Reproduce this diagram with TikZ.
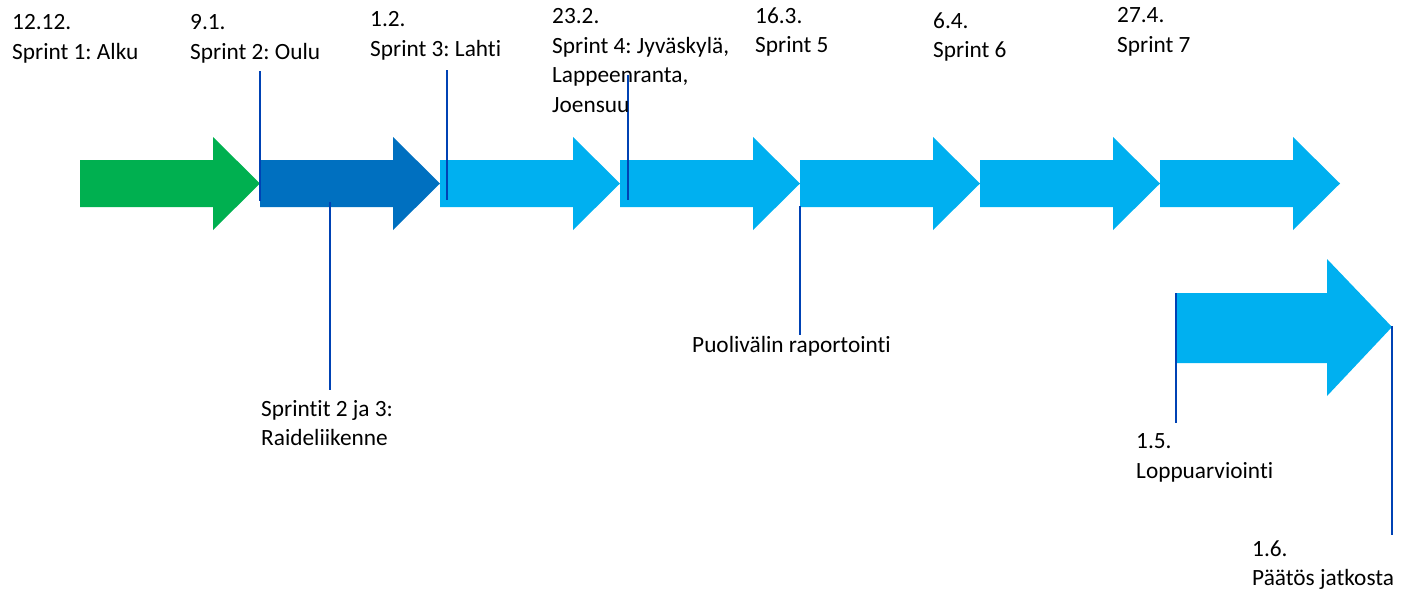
\documentclass[tikz,border=0pt]{standalone}
\usepackage{fontspec}
\setmainfont{Carlito}[Ligatures=NoCommon]
\frenchspacing
\definecolor{sgreen}{RGB}{0,176,80}
\definecolor{sdark}{RGB}{0,112,192}
\definecolor{slight}{RGB}{0,176,240}
\definecolor{sline}{RGB}{0,66,180}
\begin{document}
\begin{tikzpicture}[x=1pt,y=-1pt,
  lbl/.style={anchor=north west,inner sep=0pt,align=left,font=\fontsize{23.3}{29.5}\selectfont\frenchspacing,text=black},
  marker/.style={draw=sline,line width=2pt},
  sarrow/.pic={\fill (0,0) -- (133,0) -- (133,-23) -- (180,23.5) -- (133,70) -- (133,47) -- (0,47) -- cycle;}]
\useasboundingbox (0,0) rectangle (1402,590);
% main row of arrows
\pic[fill=sgreen] at (80,160) {sarrow};
\pic[fill=sdark] at (260,160) {sarrow};
\foreach \i in {2,...,6}{\pic[fill=slight] at (80+180*\i,160) {sarrow};}
% big arrow
\fill[slight] (1176,293) -- (1327,293) -- (1327,259) -- (1392,327) -- (1327,396) -- (1327,363) -- (1176,363) -- cycle;
% markers
\coordinate (m1a) at (260,71); \coordinate (m1b) at (260,201);
\coordinate (m2a) at (330,202); \coordinate (m2b) at (330,390);
\coordinate (m3a) at (447,70); \coordinate (m3b) at (447,200);
\coordinate (m4a) at (628,75); \coordinate (m4b) at (628,200);
\coordinate (m5a) at (800,206); \coordinate (m5b) at (800,335);
\coordinate (m6a) at (1176,293); \coordinate (m6b) at (1176,423);
\coordinate (m7a) at (1392,326); \coordinate (m7b) at (1392,535);
\foreach \k in {1,...,7}{\draw[marker] (m\k a) -- (m\k b);}
% labels
\node[lbl] (t1) at (12,14.5) {12.12.\\Sprint 1: Alku};
\node[lbl] (t2) at (190,14.5) {9.1.\\Sprint 2: Oulu};
\node[lbl] (t3) at (370,11.5) {1.2.\\Sprint 3: Lahti};
\node[lbl] (t4) at (552,8.5) {23.2.\\Sprint 4: Jyväskylä,\\Lappeenranta,\\Joensuu};
\node[lbl] (t5) at (755,7.5) {16.3.\\Sprint 5};
\node[lbl] (t6) at (933,12.5) {6.4.\\Sprint 6};
\node[lbl] (t7) at (1117,7.5) {27.4.\\Sprint 7};
\node[lbl] (t8) at (261,400) {Sprintit 2 ja 3:\\Raideliikenne};
\node[lbl] (t9) at (692,336) {Puolivälin raportointi};
\node[lbl] (t10) at (1136,433.5) {1.5.\\Loppuarviointi};
\node[lbl] (t11) at (1252,540.5) {1.6.\\Päätös jatkosta};
\end{tikzpicture}
\end{document}
